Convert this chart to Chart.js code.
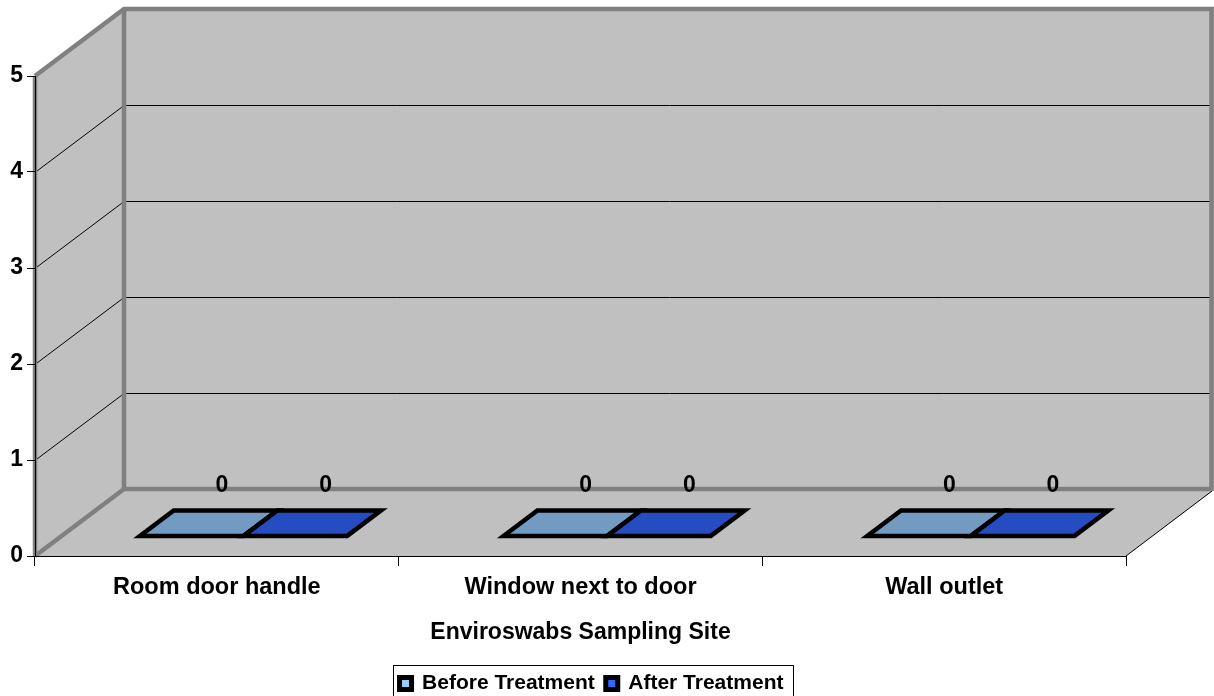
<!DOCTYPE html>
<html>
<head>
<meta charset="utf-8">
<script src="https://cdn.jsdelivr.net/npm/chart.js@4/dist/chart.umd.min.js"></script>
<style>
html,body{margin:0;padding:0;background:#fff;}
#wrap{width:1214px;height:696px;}
</style>
</head>
<body>
<div id="wrap"><canvas id="c" width="1214" height="696"></canvas></div>
<script>
const categories = ['Room door handle', 'Window next to door', 'Wall outlet'];
const beforeTreatment = [0, 0, 0];
const afterTreatment = [0, 0, 0];
const seriesNames = ['Before Treatment', 'After Treatment'];
const yTicks = [0, 1, 2, 3, 4, 5];
const axisTitle = 'Enviroswabs Sampling Site';

const FONT = "'Liberation Sans', Arial, sans-serif";
const DX = 89, DY = -67;          // 3D depth offset
const D1 = 0.30, D2 = 0.68;        // bar depth range
const barFill = ['#739AC1', '#264CC2'];
const legendFill = ['#99CCFF', '#3366FF'];
const WALL = '#C0C0C0', EDGE = '#808080';
const PAD_BOTTOM = -8;

const walls = {
  id: 'walls',
  beforeDraw(chart) {
    const ctx = chart.ctx, ca = chart.chartArea;
    const ys = chart.scales.y;
    const L = ca.left, R = ca.right, T = ys.getPixelForValue(5), B = ys.getPixelForValue(0);
    ctx.save();
    ctx.fillStyle = WALL;
    ctx.beginPath();
    ctx.moveTo(L, T); ctx.lineTo(L + DX, T + DY); ctx.lineTo(L + DX, B + DY); ctx.lineTo(L, B);
    ctx.closePath(); ctx.fill();
    ctx.fillRect(L + DX, T + DY, R - L + 10, B - T);
    ctx.beginPath();
    ctx.moveTo(L, B); ctx.lineTo(R, B); ctx.lineTo(R + DX, B + DY); ctx.lineTo(L + DX, B + DY);
    ctx.closePath(); ctx.fill();
    ctx.strokeStyle = '#000'; ctx.lineWidth = 1;
    yTicks.forEach(v => {
      if (v === 0 || v === 5) return;
      const y = Math.round(ys.getPixelForValue(v)) + 0.5;
      ctx.beginPath();
      ctx.moveTo(L, y); ctx.lineTo(L + DX, y + DY);
      ctx.lineTo(R + DX + 10, y + DY);
      ctx.stroke();
    });
    ctx.beginPath();
    ctx.moveTo(R, B); ctx.lineTo(R + DX - 3, B + DY + 2); ctx.stroke();
    ctx.strokeStyle = EDGE; ctx.lineWidth = 4.5; ctx.lineCap = 'butt';
    ctx.beginPath();
    ctx.moveTo(L, T); ctx.lineTo(L + DX, T + DY); ctx.lineTo(chart.width + 10, T + DY);
    ctx.stroke();
    ctx.beginPath();
    ctx.moveTo(L + DX, T + DY); ctx.lineTo(L + DX, B + DY); ctx.lineTo(R + DX - 4, B + DY);
    ctx.stroke();
    ctx.beginPath();
    ctx.moveTo(L, B); ctx.lineTo(L + DX, B + DY); ctx.stroke();
    ctx.beginPath();
    ctx.moveTo(L, T); ctx.lineTo(L, B); ctx.stroke();
    ctx.beginPath();
    ctx.moveTo(R + DX - 3.5, T + DY); ctx.lineTo(R + DX - 3.5, B + DY + 2); ctx.stroke();
    ctx.restore();
  },
  afterDatasetsDraw(chart) {
    const ctx = chart.ctx;
    const ys = chart.scales.y;
    ctx.save();
    chart.data.datasets.forEach((ds, di) => {
      const meta = chart.getDatasetMeta(di);
      meta.data.forEach((bar, i) => {
        const w = bar.width;
        const xl = bar.x - w / 2, xr = bar.x + w / 2;
        const y0 = ys.getPixelForValue(ds.data[i]);
        ctx.beginPath();
        ctx.moveTo(xl + D1 * DX, y0 + D1 * DY);
        ctx.lineTo(xr + D1 * DX, y0 + D1 * DY);
        ctx.lineTo(xr + D2 * DX, y0 + D2 * DY);
        ctx.lineTo(xl + D2 * DX, y0 + D2 * DY);
        ctx.closePath();
        ctx.fillStyle = barFill[di];
        ctx.fill();
        ctx.strokeStyle = '#000'; ctx.lineWidth = 4.5; ctx.lineJoin = 'miter';
        ctx.stroke();
      });
    });
    ctx.fillStyle = '#000';
    ctx.font = 'bold 23px ' + FONT;
    ctx.textAlign = 'center'; ctx.textBaseline = 'middle';
    chart.data.datasets.forEach((ds, di) => {
      const meta = chart.getDatasetMeta(di);
      meta.data.forEach((bar, i) => {
        const y0 = ys.getPixelForValue(ds.data[i]);
        ctx.fillText(String(ds.data[i]), bar.x + 0.64 * DX, y0 + 0.64 * DY - 27);
      });
    });
    ctx.restore();
  },
  afterDraw(chart) {
    const lg = chart.legend;
    if (!lg || !lg.legendHitBoxes || !lg.legendHitBoxes.length) return;
    const hb = lg.legendHitBoxes;
    const x0 = hb[0].left - 6.5, x1 = hb[hb.length - 1].left + hb[hb.length - 1].width + 10;
    const ctx = chart.ctx;
    ctx.save();
    ctx.strokeStyle = '#000'; ctx.lineWidth = 1;
    ctx.strokeRect(Math.round(x0) + 0.5, 665.5, Math.round(x1 - x0), 40);
    ctx.restore();
  }
};

new Chart(document.getElementById('c'), {
  type: 'bar',
  data: {
    labels: categories,
    datasets: [
      { label: seriesNames[0], data: beforeTreatment, backgroundColor: barFill[0], borderWidth: 0 },
      { label: seriesNames[1], data: afterTreatment, backgroundColor: barFill[1], borderWidth: 0 }
    ]
  },
  plugins: [walls],
  options: {
    responsive: false,
    animation: false,
    events: [],
    layout: { padding: { top: 76, right: 31, left: 0, bottom: PAD_BOTTOM } },
    datasets: { bar: { categoryPercentage: 0.57, barPercentage: 1.0 } },
    plugins: {
      tooltip: { enabled: false },
      legend: {
        display: true,
        position: 'bottom',
        labels: {
          font: { family: FONT, size: 21, weight: 'bold' },
          color: '#000',
          boxWidth: 12,
          boxHeight: 12,
          padding: 11,
          generateLabels(chart) {
            return chart.data.datasets.map((ds, i) => ({
              text: ds.label,
              fillStyle: legendFill[i],
              strokeStyle: '#000',
              lineWidth: 5,
              datasetIndex: i,
              hidden: false,
              fontColor: '#000'
            }));
          }
        }
      }
    },
    scales: {
      x: {
        offset: true,
        afterFit(scale) {
          const lh = scale.chart.legend ? scale.chart.legend.height : 0;
          scale.height = 696 - PAD_BOTTOM - 556 - lh;
        },
        grid: { display: true, drawOnChartArea: false, drawTicks: true, tickLength: 10, color: '#000', offset: true },
        border: { display: true, color: '#000', width: 1 },
        ticks: { font: { family: FONT, size: 23.5, weight: 'bold' }, color: '#000', padding: 7, maxRotation: 0, autoSkip: false },
        title: { display: true, text: axisTitle, font: { family: FONT, size: 23, weight: 'bold' }, color: '#000', padding: { top: 4, bottom: 16 } }
      },
      y: {
        min: 0, max: 5,
        afterFit(scale) { scale.width = 35; },
        afterBuildTicks(scale) { scale.ticks = yTicks.map(v => ({ value: v })); },
        grid: { display: true, drawOnChartArea: false, drawTicks: true, tickLength: 8, color: '#000' },
        border: { display: true, color: '#000', width: 1 },
        ticks: { font: { family: FONT, size: 23, weight: 'bold' }, color: '#000', padding: 4 }
      },
      yr: {
        position: 'right',
        display: true,
        afterFit(scale) { scale.width = 57; },
        grid: { display: false },
        border: { display: false },
        ticks: { display: false }
      }
    }
  }
});
</script>
</body>
</html>
